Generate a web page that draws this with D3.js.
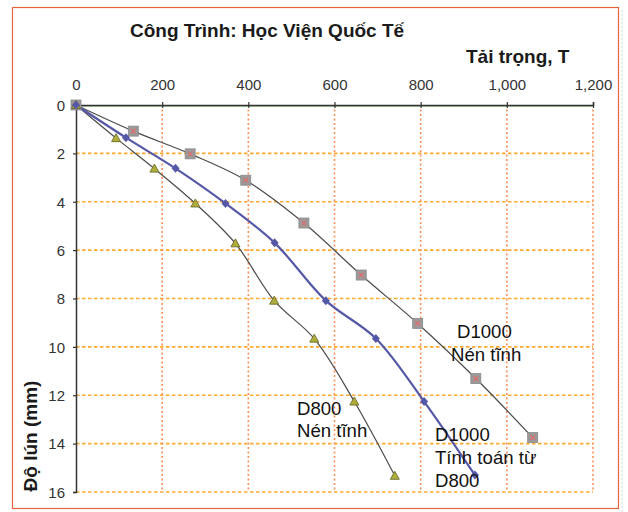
<!DOCTYPE html>
<html>
<head>
<meta charset="utf-8">
<script src="https://cdn.jsdelivr.net/npm/d3@7/dist/d3.min.js"></script>
<style>
  html, body { margin: 0; padding: 0; background: #fff; }
  svg { display: block; font-family: "Liberation Sans", Arial, sans-serif; }
</style>
</head>
<body>
<svg id="chart" width="628" height="512"></svg>
<script>
// Load (T) vs settlement (mm)
const xTicks = [0, 200, 400, 600, 800, 1000, 1200];
const yTicks = [0, 2, 4, 6, 8, 10, 12, 14, 16];

// D1000 – static load test
const d1000TestLoad   = [0, 133, 265, 394, 529, 662, 793, 928, 1060];
const d1000TestSettle = [0, 1.08, 2.02, 3.11, 4.88, 7.03, 9.03, 11.31, 13.75];

// D800 – static load test
const d800Load   = [0, 93, 182, 277, 370, 460, 553, 646, 740];
const d800Settle = [0, 1.37, 2.63, 4.07, 5.72, 8.09, 9.66, 12.26, 15.33];

// D1000 – computed from D800
const d1000CalcLoad   = [0, 116, 231, 347, 461, 580, 696, 808, 926];
const d1000CalcSettle = [0, 1.35, 2.62, 4.07, 5.70, 8.09, 9.65, 12.26, 15.30];

const titleText = "Công Trình: Học Viện Quốc Tế";
const xTitle = "Tải trọng, T";
const yTitle = "Độ lún (mm)";

const svg = d3.select("#chart");
const plotLeft = 76, plotRight = 593, plotTop = 105, plotBottom = 492;

const x = d3.scaleLinear().domain([0, 1200]).range([plotLeft, plotRight]);
const y = d3.scaleLinear().domain([0, 16]).range([plotTop, plotBottom]);

// outer frame
svg.append("rect")
  .attr("x", 12.5).attr("y", 7.5).attr("width", 606).attr("height", 501)
  .attr("fill", "#fff").attr("stroke", "#E8643F").attr("stroke-width", 1.2);
svg.append("line")
  .attr("x1", 622).attr("x2", 622).attr("y1", 10).attr("y2", 512)
  .attr("stroke", "#d8d8d8").attr("stroke-width", 1).attr("stroke-dasharray", "2,2");

// grid
svg.append("g").selectAll("line")
  .data(yTicks.filter(d => d > 0))
  .join("line")
  .attr("x1", plotLeft).attr("x2", plotRight)
  .attr("y1", d => y(d)).attr("y2", d => y(d))
  .attr("stroke", "#FFAA2E").attr("stroke-width", 1.6)
  .attr("stroke-dasharray", "3.5,2.5");
svg.append("g").selectAll("line")
  .data(xTicks.filter(d => d > 0))
  .join("line")
  .attr("x1", d => x(d)).attr("x2", d => x(d))
  .attr("y1", plotTop).attr("y2", plotBottom)
  .attr("stroke", "#FF8F55").attr("stroke-width", 1.6)
  .attr("stroke-dasharray", "2,2.5");

// faint green line under the load axis
svg.append("line")
  .attr("x1", plotLeft).attr("x2", plotRight)
  .attr("y1", plotTop + 1.3).attr("y2", plotTop + 1.3)
  .attr("stroke", "#9cc58a").attr("stroke-width", 1);

// axes
const xAxis = d3.axisTop(x).tickValues(xTicks).tickFormat(d3.format(","))
  .tickSize(3).tickPadding(12);
const gx = svg.append("g").attr("transform", `translate(0,${plotTop})`).call(xAxis);
gx.selectAll(".tick").append("line").attr("y2", 3).attr("stroke", "#333");

const yAxis = d3.axisLeft(y).tickValues(yTicks).tickSize(3).tickPadding(8);
const gy = svg.append("g").attr("transform", `translate(${plotLeft},0)`).call(yAxis);

[gx, gy].forEach(g => {
  g.select(".domain").attr("stroke", "#333").attr("stroke-width", 1.5);
  g.selectAll(".tick line").attr("stroke", "#333").attr("stroke-width", 1.2);
  g.selectAll("text").attr("fill", "#333").attr("font-size", 15)
    .attr("font-family", "'Liberation Sans', Arial, sans-serif");
});
gy.selectAll("text").attr("dy", "0.35em");

// titles
svg.append("text").attr("x", 130).attr("y", 37)
  .attr("font-size", 19).attr("font-weight", "bold").attr("fill", "#1a1a1a")
  .text(titleText);
svg.append("text").attr("x", 466).attr("y", 63)
  .attr("font-size", 19).attr("font-weight", "bold").attr("fill", "#1a1a1a")
  .text(xTitle);
svg.append("text")
  .attr("transform", `translate(37,436) rotate(-90)`)
  .attr("text-anchor", "middle")
  .attr("font-size", 19).attr("font-weight", "bold").attr("fill", "#1a1a1a")
  .text(yTitle);

const zip = (xs, ys) => xs.map((v, i) => [v, ys[i]]);
const line = d3.line().x(d => x(d[0])).y(d => y(d[1]))
  .curve(d3.curveCatmullRom.alpha(0.5));

const testPts = zip(d1000TestLoad, d1000TestSettle);
const d800Pts = zip(d800Load, d800Settle);
const calcPts = zip(d1000CalcLoad, d1000CalcSettle);

// series lines
svg.append("path").datum(testPts).attr("d", line)
  .attr("fill", "none").attr("stroke", "#4d4d4d").attr("stroke-width", 1.25);
svg.append("path").datum(d800Pts).attr("d", line)
  .attr("fill", "none").attr("stroke", "#4d4d4d").attr("stroke-width", 1.25);
svg.append("path").datum(calcPts).attr("d", line)
  .attr("fill", "none").attr("stroke", "#5558A6").attr("stroke-width", 2.2);

// square markers with cross
const sq = svg.append("g").selectAll("g").data(testPts).join("g")
  .attr("transform", d => `translate(${x(d[0])},${y(d[1])})`);
sq.append("rect").attr("x", -5).attr("y", -5).attr("width", 10).attr("height", 10)
  .attr("fill", "#9a9a9a").attr("stroke", "#8a8a8a").attr("stroke-width", 0.8);
sq.append("path").attr("d", "M-2.5,-2.5L2.5,2.5M-2.5,2.5L2.5,-2.5")
  .attr("stroke", "#E86A6A").attr("stroke-width", 1.1);

// triangle markers
svg.append("g").selectAll("path").data(d800Pts).join("path")
  .attr("transform", d => `translate(${x(d[0])},${y(d[1])})`)
  .attr("d", "M0,-4.5L4.5,3.5L-4.5,3.5Z")
  .attr("fill", "#B0AE3A").attr("stroke", "#6e6c2c").attr("stroke-width", 0.9);

// diamond markers
svg.append("g").selectAll("path").data(calcPts).join("path")
  .attr("transform", d => `translate(${x(d[0])},${y(d[1])})`)
  .attr("d", "M0,-4.5L4,0L0,4.5L-4,0Z")
  .attr("fill", "#5558A6");

// series labels
const labels = [
  { x: 457, y: 338, text: "D1000" },
  { x: 451, y: 361, text: "Nén tĩnh" },
  { x: 297, y: 415, text: "D800" },
  { x: 297, y: 437, text: "Nén tĩnh" },
  { x: 435, y: 441, text: "D1000" },
  { x: 435, y: 464, text: "Tính toán từ" },
  { x: 435, y: 487, text: "D800" }
];
svg.append("g").selectAll("text").data(labels).join("text")
  .attr("x", d => d.x).attr("y", d => d.y)
  .attr("font-size", 18.6).attr("fill", "#111")
  .text(d => d.text);
</script>
</body>
</html>
